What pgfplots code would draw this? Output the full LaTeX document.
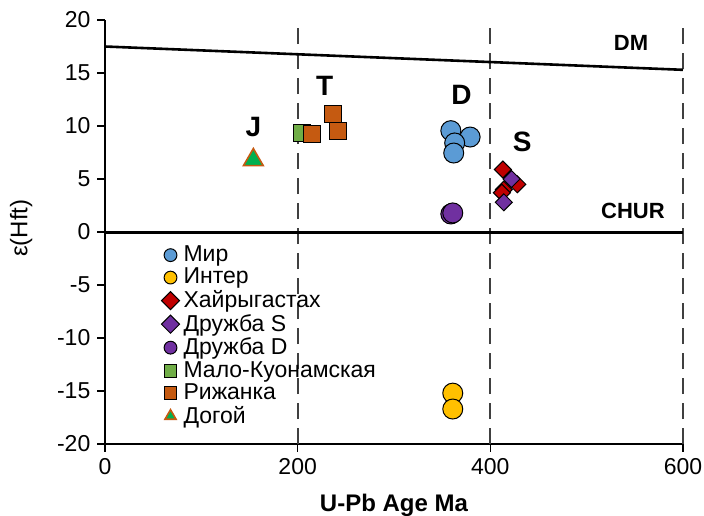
\documentclass[border=0pt]{standalone}
\usepackage{pgfplots}
\pgfplotsset{compat=1.18}
\usepackage{fontspec}
\setmainfont{Liberation Sans}
\definecolor{cblue}{HTML}{5B9BD5}
\definecolor{cyel}{HTML}{FFC000}
\definecolor{cred}{HTML}{C00000}
\definecolor{cpur}{HTML}{7030A0}
\definecolor{cgreen}{HTML}{70AD47}
\definecolor{corange}{HTML}{C55A11}
\definecolor{ctri}{HTML}{00B050}
\begin{document}
\begin{tikzpicture}
\useasboundingbox (-52.5pt,-35.5pt) rectangle (299.5pt,222pt);
\begin{axis}[
  scale only axis, width=289pt, height=212pt,
  xmin=0, xmax=600, ymin=-20, ymax=20,
  axis x line*=bottom, axis y line*=left,
  axis line style={line width=1pt, -},
  xtick={0,200,400,600}, ytick={-20,-15,...,20},
  tick align=outside, major tick length=3.8pt,
  tick style={line width=0.8pt, black},
  ticklabel style={font=\fontsize{11.5}{13}\selectfont},
  /pgf/number format/assume math mode=true,
  xlabel={\bfseries U-Pb Age Ma},
  xlabel style={at={(axis description cs:0.5,-0.160)}, anchor=base, font=\fontsize{12}{14}\selectfont},
  ylabel={ε(Hft)},
  ylabel style={at={(axis description cs:-0.145,0.509)}, anchor=center, font=\fontsize{12}{14}\selectfont},
  legend style={at={(0.097,0.478)}, anchor=north west, draw=none, fill=none,
    font=\fontsize{11.5}{12.5}\selectfont, row sep=-2.2pt, inner sep=0pt},
  legend cell align=left,
  legend image code/.code={\draw[mark repeat=2,mark phase=2,#1,mark size=3.2pt] plot coordinates {(0pt,0pt) (4pt,0pt) (8pt,0pt)};},
  clip=false,
]
% dashed verticals
\addplot[forget plot, line width=1pt, black!75, dash pattern=on 8pt off 4.5pt] coordinates {(200,-20) (200,20)};
\addplot[forget plot, line width=1pt, black!75, dash pattern=on 8pt off 4.5pt] coordinates {(400,-20) (400,20)};
\addplot[forget plot, line width=1pt, black!75, dash pattern=on 8pt off 4.5pt] coordinates {(600,-20) (600,20)};
% DM and CHUR
\addplot[forget plot, line width=1.3pt] coordinates {(0,17.5) (600,15.3)};
\addplot[forget plot, line width=1.5pt] coordinates {(0,0) (600,0)};
% data
\addplot[only marks, mark=*, mark size=5pt, mark options={fill=cblue, draw=black, line width=0.5pt}]
  coordinates {(359,9.56) (379,8.96) (363,8.4) (362,7.45)};
\addlegendentry{Мир}
\addplot[only marks, mark=*, mark size=5pt, mark options={fill=cyel, draw=black, line width=0.5pt}]
  coordinates {(361,-15.2) (361,-16.7)};
\addlegendentry{Интер}
\addplot[only marks, mark=square*, mark size=3pt, mark options={rotate=45, fill=cred, draw=black, line width=0.5pt}]
  coordinates {(413,5.9) (428,4.5) (414,4.0) (412,3.7)};
\addlegendentry{Хайрыгастах}
\addplot[only marks, mark=square*, mark size=3pt, mark options={rotate=45, fill=cpur, draw=black, line width=0.5pt}]
  coordinates {(422,5.0) (414,2.8)};
\addlegendentry{Дружба S}
\addplot[only marks, mark=*, mark size=5pt, mark options={fill=cpur, draw=black, line width=0.5pt}]
  coordinates {(359,1.7) (361,1.8)};
\addlegendentry{Дружба D}
\addplot[only marks, mark=square*, mark size=4.25pt, mark options={fill=cgreen, draw=black, line width=0.5pt}]
  coordinates {(205,9.3)};
\addlegendentry{Мало-Куонамская}
\addplot[only marks, mark=square*, mark size=4.25pt, mark options={fill=corange, draw=black, line width=0.5pt}]
  coordinates {(237,11.1) (242,9.5) (215,9.25)};
\addlegendentry{Рижанка}
\addplot[only marks, mark=triangle*, mark size=5.7pt, mark options={fill=ctri, draw=corange, line width=0.8pt}]
  coordinates {(154,6.8)};
\addlegendentry{Догой}
% labels
\node[font=\fontsize{14}{16}\selectfont\bfseries] at (axis cs:154,9.9) {J};
\node[font=\fontsize{14}{16}\selectfont\bfseries] at (axis cs:228,13.8) {T};
\node[font=\fontsize{14}{16}\selectfont\bfseries] at (axis cs:370,12.9) {D};
\node[font=\fontsize{14}{16}\selectfont\bfseries] at (axis cs:433,8.5) {S};
\node[font=\fontsize{11}{13}\selectfont\bfseries] at (axis cs:546,17.8) {DM};
\node[font=\fontsize{11}{13}\selectfont\bfseries] at (axis cs:548,2.0) {CHUR};
\end{axis}
\end{tikzpicture}
\end{document}
